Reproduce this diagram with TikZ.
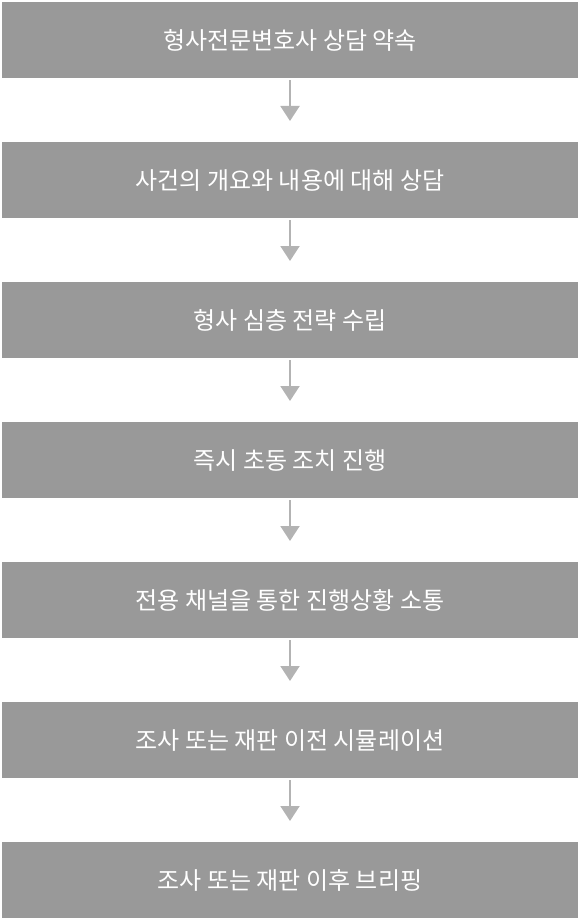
\documentclass[tikz,border=0pt]{standalone}
\usepackage{fontspec}
\newfontfamily\kr{Noto Sans CJK KR}
\usetikzlibrary{arrows.meta}
\definecolor{boxgray}{HTML}{999999}
\definecolor{arrowgray}{HTML}{B3B3B3}
\tikzset{
  stepbox/.style={fill=boxgray, draw=none, minimum width=576pt, minimum height=76pt,
    inner sep=0pt, text=white, font=\kr\fontsize{24}{28}\selectfont, anchor=north},
  flowarrow/.style={draw=arrowgray, line width=2pt, -{Triangle[length=15pt,width=19pt]}, shorten <=2pt, shorten >=21pt}
}
\begin{document}
\begin{tikzpicture}[x=1pt,y=-1pt]
\useasboundingbox (0,0) rectangle (580,920);
\node[stepbox] (s1) at (290,2) {형사전문변호사 상담 약속};
\node[stepbox] (s2) at (290,142) {사건의 개요와 내용에 대해 상담};
\node[stepbox] (s3) at (290,282) {형사 심층 전략 수립};
\node[stepbox] (s4) at (290,422) {즉시 초동 조치 진행};
\node[stepbox] (s5) at (290,562) {전용 채널을 통한 진행상황 소통};
\node[stepbox] (s6) at (290,702) {조사 또는 재판 이전 시뮬레이션};
\node[stepbox] (s7) at (290,842) {조사 또는 재판 이후 브리핑};
\foreach \a/\b in {s1/s2,s2/s3,s3/s4,s4/s5,s5/s6,s6/s7}
  \draw[flowarrow] (\a.south) -- (\b.north);
\end{tikzpicture}
\end{document}
